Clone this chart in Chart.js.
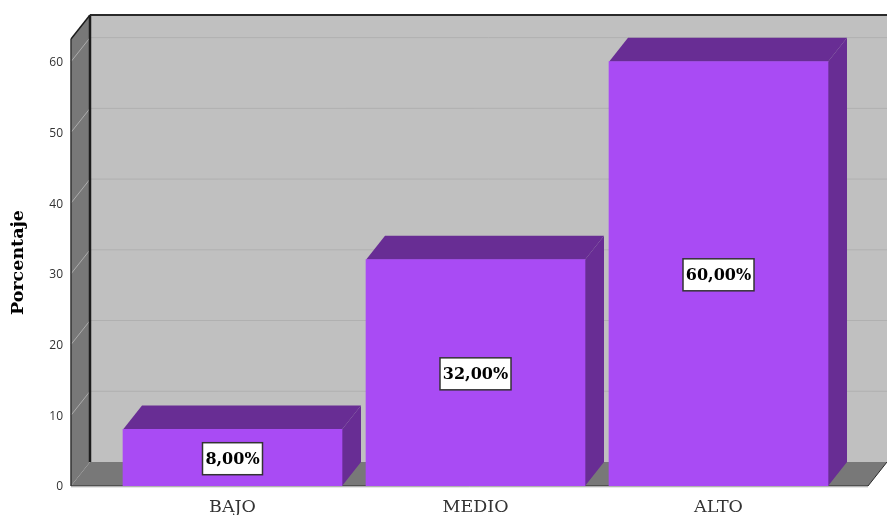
<!DOCTYPE html>
<html>
<head>
<meta charset="utf-8">
<title>Porcentaje</title>
<script src="https://cdn.jsdelivr.net/npm/chart.js@4/dist/chart.umd.min.js"></script>
<style>
    html, body { margin: 0; padding: 0; background: #fff; }
    #wrap { position: relative; width: 887px; height: 515px; overflow: hidden; }
</style>
</head>
<body>
<div id="wrap"><canvas id="barChart"></canvas></div>
<script>
const categories = ['BAJO', 'MEDIO', 'ALTO'];
const percentages = [8, 32, 60];
const yTicks = [0, 10, 20, 30, 40, 50, 60];

// Depth of the fake 3D box
const DEPTH_X = 19;
const DEPTH_Y = 24;

function poly(ctx, pts, fill) {
    ctx.beginPath();
    pts.forEach((p, i) => i ? ctx.lineTo(p[0], p[1]) : ctx.moveTo(p[0], p[1]));
    ctx.closePath();
    ctx.fillStyle = fill;
    ctx.fill();
}

function line(ctx, x1, y1, x2, y2, color, width) {
    ctx.beginPath();
    ctx.moveTo(x1, y1);
    ctx.lineTo(x2, y2);
    ctx.strokeStyle = color;
    ctx.lineWidth = width;
    ctx.stroke();
}

// Back wall, side wall, floor and their grid lines
const boxPlugin = {
    id: 'box',
    beforeDatasetsDraw(chart) {
        const { ctx, chartArea: a, scales: { y } } = chart;
        const { left, right, top, bottom } = a;
        ctx.save();
        poly(ctx, [[left + DEPTH_X, top - DEPTH_Y], [right + DEPTH_X, top - DEPTH_Y],
            [right + DEPTH_X, bottom - DEPTH_Y], [left + DEPTH_X, bottom - DEPTH_Y]], '#c0c0c0');
        poly(ctx, [[left, top], [left + DEPTH_X, top - DEPTH_Y],
            [left + DEPTH_X, bottom - DEPTH_Y], [left, bottom]], '#787878');
        poly(ctx, [[left, bottom], [left + DEPTH_X, bottom - DEPTH_Y],
            [right + DEPTH_X, bottom - DEPTH_Y], [right, bottom]], '#787878');

        yTicks.slice(1).forEach(v => {
            const py = y.getPixelForValue(v);
            line(ctx, left + DEPTH_X, py - DEPTH_Y, right + DEPTH_X, py - DEPTH_Y, '#b0b0b0', 1);
            line(ctx, left, py, left + DEPTH_X, py - DEPTH_Y, '#acacac', 1);
        });

        line(ctx, left + DEPTH_X, top - DEPTH_Y, left + DEPTH_X, bottom - DEPTH_Y, '#1c1c1c', 2.5);
        line(ctx, left + DEPTH_X, top - DEPTH_Y, right + DEPTH_X, top - DEPTH_Y, '#2a2a2a', 2);
        line(ctx, left, top, left + DEPTH_X, top - DEPTH_Y, '#1c1c1c', 1.5);
        line(ctx, left, top, left, bottom, '#333', 1.5);
        line(ctx, left, bottom, right, bottom, '#2a2a2a', 1);
        line(ctx, right, bottom, right + DEPTH_X, bottom - DEPTH_Y, '#2a2a2a', 1);
        line(ctx, left, bottom + 1, right, bottom + 1, '#cfcfcf', 1);

        // top and side faces of each bar
        chart.getDatasetMeta(0).data.forEach(bar => {
            const l = bar.x - bar.width / 2;
            const r = bar.x + bar.width / 2;
            poly(ctx, [[l, bar.y], [l + DEPTH_X, bar.y - DEPTH_Y],
                [r + DEPTH_X, bar.y - DEPTH_Y], [r, bar.y]], '#682d94');
            poly(ctx, [[r, bar.y], [r + DEPTH_X, bar.y - DEPTH_Y],
                [r + DEPTH_X, bar.base - DEPTH_Y], [r, bar.base]], '#682d94');
        });
        ctx.restore();
    }
};

// White boxed percentage in the middle of each bar
const valueLabelPlugin = {
    id: 'valueLabels',
    afterDatasetsDraw(chart) {
        const { ctx } = chart;
        ctx.save();
        ctx.font = 'bold 16px "DejaVu Serif"';
        ctx.textAlign = 'center';
        ctx.textBaseline = 'middle';
        chart.getDatasetMeta(0).data.forEach((bar, i) => {
            const text = percentages[i].toFixed(2).replace('.', ',') + '%';
            const cy = (bar.y + bar.base) / 2 + 1;
            const w = Math.round(ctx.measureText(text).width) + 6;
            const h = 32;
            ctx.fillStyle = '#fff';
            ctx.fillRect(bar.x - w / 2, cy - h / 2, w, h);
            ctx.strokeStyle = '#333';
            ctx.lineWidth = 1.5;
            ctx.strokeRect(bar.x - w / 2, cy - h / 2, w, h);
            ctx.fillStyle = '#000';
            ctx.fillText(text, bar.x, cy + 1);
        });
        ctx.restore();
    }
};

new Chart(document.getElementById('barChart'), {
    type: 'bar',
    data: {
        labels: categories.map((c, i) => i),
        datasets: [{
            data: percentages,
            backgroundColor: '#a94bf4',
            borderWidth: 0,
            barThickness: 219
        }]
    },
    options: {
        responsive: true,
        maintainAspectRatio: false,
        animation: false,
        layout: { padding: { top: 39, right: 19, left: 0, bottom: 0 } },
        plugins: { legend: { display: false }, tooltip: { enabled: false } },
        scales: {
            x: {
                type: 'linear',
                offset: false,
                min: -0.6646,
                max: 2.6152,
                grid: { display: false },
                border: { display: false },
                afterBuildTicks(scale) {
                    scale.ticks = categories.map((c, i) => ({ value: i }));
                },
                afterFit(scale) { scale.height = 29; },
                ticks: {
                    autoSkip: false,
                    maxRotation: 0,
                    padding: 3,
                    color: '#333',
                    font: { family: '"DejaVu Serif"', size: 17.5 },
                    callback: value => categories[value]
                }
            },
            y: {
                min: 0,
                max: 63.2,
                grid: { display: false },
                border: { display: false },
                afterBuildTicks(scale) {
                    scale.ticks = yTicks.map(v => ({ value: v }));
                },
                afterFit(scale) { scale.width = 71; },
                title: {
                    display: true,
                    text: 'Porcentaje',
                    color: '#000',
                    padding: { top: 8, bottom: 4 },
                    font: { family: '"DejaVu Serif"', size: 17.5, weight: 'bold' }
                },
                ticks: {
                    padding: 0,
                    labelOffset: 1,
                    color: '#333',
                    font: { family: '"Open Sans"', size: 12 }
                }
            }
        }
    },
    plugins: [boxPlugin, valueLabelPlugin]
});
</script>
</body>
</html>
